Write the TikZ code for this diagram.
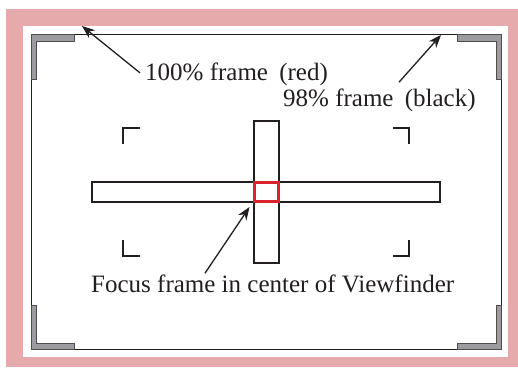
\documentclass[tikz,border=0pt]{standalone}
\usepackage{fontspec}
\setmainfont{Liberation Serif}
\usepackage{tikz}
\usetikzlibrary{arrows.meta,positioning}
\definecolor{vfpink}{HTML}{E6A9AC}
\definecolor{vfgrey}{HTML}{9C9CA0}
\definecolor{vfred}{HTML}{D8232A}
\definecolor{vfink}{HTML}{231F20}

\begin{document}
\begin{tikzpicture}[
  x=1pt,y=-1pt,
  lbl/.style={font=\fontsize{25}{28}\selectfont,text=vfink,inner sep=0pt,anchor=base west},
  bar/.style={draw=vfink,line width=1.2pt,fill=white,minimum width=#1,inner sep=0pt},
  cornermark/.style={fill=vfgrey,draw=vfink!80,line width=0.6pt},
  bracketline/.style={draw=vfink,line width=1.2pt},
  arr/.style={-{Stealth[length=13pt,width=10pt]},line width=1.3pt,draw=vfink}
]
\useasboundingbox (0,0) rectangle (518,367);
% pink outer band
\fill[vfpink] (6,9) rectangle (518,367);
\fill[white] (23,26) rectangle (508,357);
% thin frame
\node[draw=vfink,line width=0.9pt,minimum width=470,minimum height=315,inner sep=0pt] (frame) at (266,191.5) {};
% grey corners
\filldraw[cornermark] (31,34) -- (74,34) -- (74,41) -- (36,41) -- (36,79) -- (31,79) -- cycle;
\filldraw[cornermark] (501,34) -- (457,34) -- (457,41) -- (496,41) -- (496,79) -- (501,79) -- cycle;
\filldraw[cornermark] (31,349) -- (74,349) -- (74,343) -- (36,343) -- (36,305) -- (31,305) -- cycle;
\filldraw[cornermark] (501,349) -- (457,349) -- (457,343) -- (496,343) -- (496,305) -- (501,305) -- cycle;
% focus brackets
\draw[bracketline] (140,128) -- (123,128) -- (123,144);
\draw[bracketline] (393,128) -- (409,128) -- (409,144);
\draw[bracketline] (140,256) -- (123,256) -- (123,240);
\draw[bracketline] (393,256) -- (409,256) -- (409,240);
% cross bars
\node[bar=25,minimum height=142] (vbar) at (266.5,192) {};
\node[bar=348,minimum height=20] (hbar) at (266,192) {};
\node[draw=vfred,line width=3pt,minimum width=24,minimum height=19,inner sep=0pt] (focus) at (266,192) {};
% labels
\node[lbl] (lbl100) at (145,80) {100\% frame\hspace{0.45em}(red)};
\node[lbl] (lbl98) at (283,106) {98\% frame\hspace{0.45em}(black)};
\node[lbl] (lblfocus) at (91,292) {Focus frame in center of Viewfinder};
\coordinate (tip100) at (82,26);
\coordinate (tip98) at (441,35);
% arrows
\draw[arr] ([xshift=-5pt,yshift=1pt]lbl100.west) -- (tip100);
\draw[arr] ([xshift=116pt,yshift=6pt]lbl98.north west) -- (tip98);
\draw[arr] ([xshift=114pt,yshift=1pt]lblfocus.north west) -- ([xshift=-3pt,yshift=-4pt]focus.south west);
\end{tikzpicture}
\end{document}
